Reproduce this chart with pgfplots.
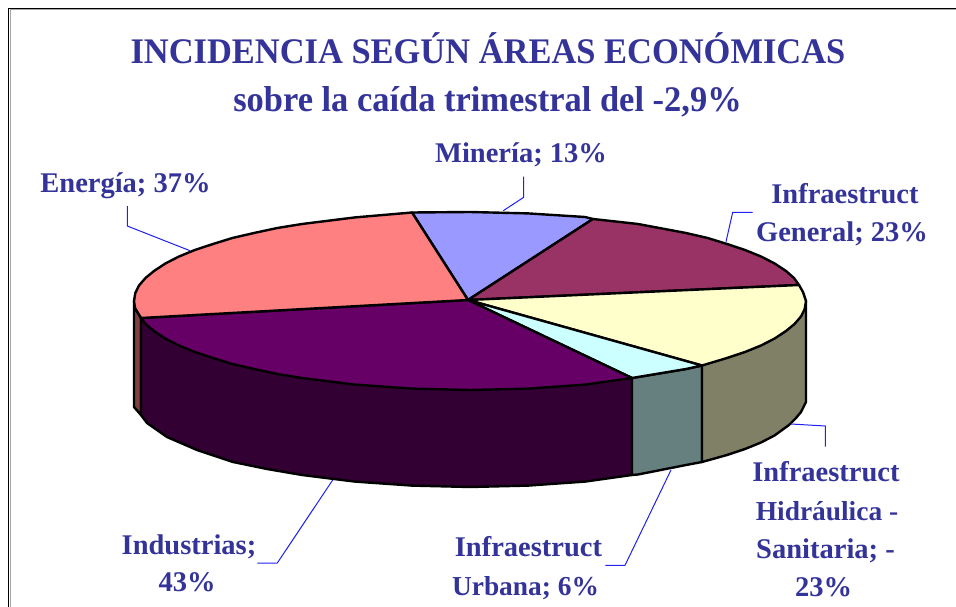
\documentclass[border=0pt]{standalone}
\usepackage{pgfplots}
\pgfplotsset{compat=1.18}
\usepackage{fontspec}
\setmainfont{Liberation Serif}
\newfontfamily\ttlfont[FakeStretch=0.957]{Liberation Serif}
\definecolor{txt}{HTML}{333399}
\definecolor{lead}{HTML}{2020F0}
\tikzset{
  pie/.style={draw=black,line width=2.4pt},
  lab/.style={font=\bfseries\fontsize{28.5}{38}\selectfont,text=txt,inner sep=0pt,anchor=base},
  labs/.style={font=\bfseries\fontsize{27.4}{38}\selectfont,text=txt,inner sep=0pt,anchor=base},
  ttl/.style={font=\ttlfont\bfseries\fontsize{36}{46}\selectfont,text=txt,inner sep=0pt,anchor=base},
}
\begin{document}
\begin{tikzpicture}[x=1pt,y=1pt]
\begin{axis}[
  at={(0,0)},anchor=south west,
  scale only axis,width=956pt,height=607pt,
  xmin=0,xmax=956,ymin=0,ymax=607,y dir=reverse,
  hide axis,clip=true,
  every axis plot/.append style={line join=round},
]
% page
\addplot[draw=none,fill=white] coordinates {(0,0)(956,0)(956,607)(0,607)} --cycle;
% frame
\addplot[draw=black!35,line width=1pt] coordinates {(10,607)(10,10)(956,10)};
\addplot[draw=black,line width=1.3pt] coordinates {(8.7,607)(8.7,8.7)(956,8.7)};
% side: Energia sliver
\addplot[pie,fill={rgb,255:red,128;green,64;blue,64}] coordinates {(134,301)(135,308)(141,318)(141,415)(134,407)} --cycle;
% side: Industrias
\addplot[pie,fill={rgb,255:red,51;green,0;blue,51}] coordinates {(141,318)(141,415)(147,423)(167,437)(197,450)(233,462)(267,469)(302,475)(355,481.6)(412,485.6)(470,487)(528,485.6)(585,481.6)(632,475)(632,378)} --cycle;
% side: Urbana
\addplot[pie,fill={rgb,255:red,102;green,128;blue,128}] coordinates {(632,378)(632,475)(638,474.5)(686,465)(702,462)(702,365.5)(686,369)(638,377)} --cycle;
% side: Hidraulica
\addplot[pie,fill={rgb,255:red,128;green,128;blue,102}] coordinates {(702,365.5)(702,462)(727,455)(745,449)(761,442.5)(774.5,435.5)(789,425)(796,418)(801,412)(806,402)(806,301)} --cycle;
% top: Mineria
\addplot[pie,fill={rgb,255:red,153;green,153;blue,255}] coordinates {(468,300)(412,212.5)(470,212)(528,213.4)(585,217)(593,219)} --cycle;
% top: General
\addplot[pie,fill={rgb,255:red,153;green,51;blue,102}] coordinates {(468,300)(593,219)(638,224)(686,233)(707.6,238)(727,244)(745,250)(761,256.5)(774.5,263.4)(786,271)(794,278)(799,285)} --cycle;
% top: Hidraulica
\addplot[pie,fill={rgb,255:red,255;green,255;blue,204}] coordinates {(468,300)(799,285)(803,292)(806,301)(804.7,309)(801,316.5)(794.5,324)(786,331)(774.5,338.6)(761,345.5)(745,352)(727,358)(702,365.5)} --cycle;
% top: Urbana
\addplot[pie,fill={rgb,255:red,204;green,255;blue,255}] coordinates {(468,300)(702,365.5)(686,369)(638,377)(632,378)} --cycle;
% top: Industrias
\addplot[pie,fill={rgb,255:red,102;green,0;blue,102}] coordinates {(468,300)(632,378)(585,384.6)(528,388.6)(470,390)(412,388.6)(355,384.6)(302,378)(277.3,374)(254,369)(232.4,364)(213,358)(194.8,352)(179,345.5)(165.5,338.6)(154,331)(145.5,324)(141,318)} --cycle;
% top: Energia
\addplot[pie,fill={rgb,255:red,255;green,128;blue,128}] coordinates {(468,300)(141,318)(135,308)(134,301)(135.3,293)(139,285.5)(145.5,278)(154,271)(165.5,263.4)(179,256.5)(194.8,250)(213,244)(232.4,238)(254,233)(277.3,228)(302,224)(355,217.4)(412,212.5)} --cycle;
% leaders
\addplot[lead,line width=1pt] coordinates {(127.3,206)(127.3,226)(190,250.7)};
\addplot[lead,line width=1pt] coordinates {(523.7,176.7)(523.7,197.3)(503.3,210.7)};
\addplot[lead,line width=1pt] coordinates {(752.7,212.3)(732.7,212.3)(726,241.7)};
\addplot[lead,line width=1pt] coordinates {(791,424)(825.3,426)(825.3,446.7)};
\addplot[lead,line width=1pt] coordinates {(671,470)(625,565.3)(605.3,565.3)};
\addplot[lead,line width=1pt] coordinates {(332.7,480)(277.3,563)(257.3,563)};
% texts
\node[ttl] at (axis cs:488,63.5) {INCIDENCIA SEGÚN ÁREAS ECONÓMICAS};
\node[ttl] at (axis cs:487.5,111.5) {sobre la caída trimestral del -2,9\%};
\node[lab] at (axis cs:125.5,192.7) {Energía; 37\%};
\node[lab] at (axis cs:521,162.7) {Minería; 13\%};
\node[lab] at (axis cs:845,203.3) {Infraestruct};
\node[lab] at (axis cs:842,241) {General; 23\%};
\node[lab] at (axis cs:189,554) {Industrias;};
\node[lab] at (axis cs:187,591.7) {43\%};
\node[lab] at (axis cs:528.5,556) {Infraestruct};
\node[labs] at (axis cs:525.5,595) {Urbana; 6\%};
\node[lab] at (axis cs:826,481.7) {Infraestruct};
\node[labs] at (axis cs:827,520) {Hidráulica -};
\node[lab] at (axis cs:825.5,558.3) {Sanitaria; -};
\node[lab] at (axis cs:823.5,596.7) {23\%};
\end{axis}
\end{tikzpicture}
\end{document}
